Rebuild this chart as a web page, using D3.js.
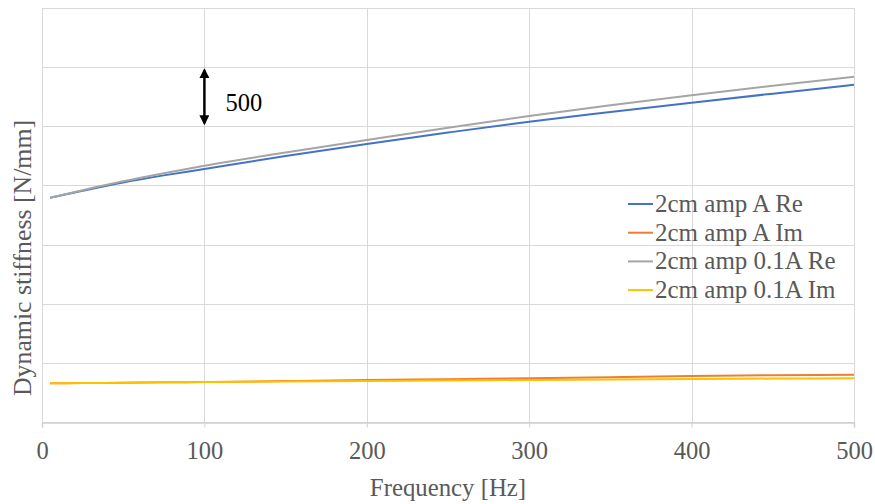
<!DOCTYPE html>
<html>
<head>
<meta charset="utf-8">
<script src="https://cdn.jsdelivr.net/npm/d3@7"></script>
<style>
  body { margin: 0; background: #fff; }
  svg text { font-family: "Liberation Serif", "Times New Roman", serif !important; }
</style>
</head>
<body>
<svg id="chart"></svg>
<script>
// data
let freqs    = [5, 25, 50, 75, 100, 150, 200, 250, 300, 350, 400, 450, 500];
let reA      = [1896, 1955, 2025, 2085, 2139, 2248, 2350, 2447, 2539, 2620, 2699, 2776, 2851];
let imA      = [327, 329, 332, 335, 338, 346, 355, 362, 369, 379, 389, 395, 400];
let reSmall  = [1896, 1960, 2035, 2103, 2167, 2278, 2384, 2488, 2587, 2677, 2762, 2842, 2919];
let imSmall  = [327, 329, 332, 335, 338, 343, 347, 351, 355, 360, 364, 367, 369];
let seriesNames = ["2cm amp A Re", "2cm amp A Im", "2cm amp 0.1A Re", "2cm amp 0.1A Im"];
let seriesColors = ["#4472C4", "#ED7D31", "#A5A5A5", "#FFC000"];
let xTicks = [0, 100, 200, 300, 400, 500];
let yGrid = [0, 500, 1000, 1500, 2000, 2500, 3000, 3500];

let width = 875, height = 504;
let margin = {top: 8, right: 21, bottom: 82, left: 42};
let serif = "'Liberation Serif', 'Times New Roman', serif";

let svg = d3.select("#chart")
  .attr("width", width)
  .attr("height", height);

let x = d3.scaleLinear().domain([0, 500]).range([margin.left, width - margin.right]);
let y = d3.scaleLinear().domain([0, 3500]).range([height - margin.bottom, margin.top]);

// grid
svg.append("g")
  .selectAll("line.h")
  .data(yGrid)
  .enter().append("line")
  .attr("x1", x(0)).attr("x2", x(500))
  .attr("y1", d => Math.round(y(d)) + 0.5).attr("y2", d => Math.round(y(d)) + 0.5)
  .attr("stroke", "#d9d9d9").attr("stroke-width", 1);

svg.append("g")
  .selectAll("line.v")
  .data(xTicks)
  .enter().append("line")
  .attr("x1", d => Math.round(x(d)) + 0.5).attr("x2", d => Math.round(x(d)) + 0.5)
  .attr("y1", y(3500)).attr("y2", y(0))
  .attr("stroke", "#d9d9d9").attr("stroke-width", 1);

// x axis
let xAxis = svg.append("g")
  .attr("transform", "translate(0," + (Math.round(y(0)) + 0.5) + ")")
  .call(d3.axisBottom(x).tickValues(xTicks).tickSize(5).tickPadding(14).tickFormat(d3.format("d")));
xAxis.select(".domain").attr("stroke", "#d0d0d0").attr("stroke-width", 1.5);
xAxis.selectAll(".tick line").attr("stroke", "#d0d0d0");
xAxis.selectAll(".tick text")
  .style("font-family", serif)
  .style("font-size", "24.5px")
  .attr("fill", "#595959");

// lines
let allSeries = [reA, imA, reSmall, imSmall];
let line = d3.line()
  .x((d, i) => x(freqs[i]))
  .y(d => y(d))
  .curve(d3.curveMonotoneX);

// draw in Excel order: A Re, A Im, 0.1A Re, 0.1A Im
allSeries.forEach(function(s, i) {
  svg.append("path")
    .datum(s)
    .attr("fill", "none")
    .attr("stroke", seriesColors[i])
    .attr("stroke-width", 2)
    .attr("d", line);
});

// arrow showing 500 N/mm
let defs = svg.append("defs");
defs.append("marker")
  .attr("id", "head")
  .attr("viewBox", "0 0 10 10")
  .attr("refX", 8).attr("refY", 5)
  .attr("markerWidth", 4).attr("markerHeight", 4)
  .attr("orient", "auto-start-reverse")
  .append("path")
  .attr("d", "M0,0 L10,5 L0,10 z")
  .attr("fill", "#000");

svg.append("line")
  .attr("x1", x(100)).attr("x2", x(100))
  .attr("y1", y(3000) + 3).attr("y2", y(2500) - 3)
  .attr("stroke", "#000").attr("stroke-width", 2.5)
  .attr("marker-start", "url(#head)")
  .attr("marker-end", "url(#head)");

svg.append("text")
  .attr("x", x(100) + 21)
  .attr("y", 111)
  .style("font-family", serif)
  .style("font-size", "24.5px")
  .style("fill", "#000")
  .text("500");

// legend
let legend = svg.append("g").attr("transform", "translate(628,204)");
seriesNames.forEach(function(name, i) {
  let g = legend.append("g").attr("transform", "translate(0," + (i * 28.7) + ")");
  g.append("line")
    .attr("x1", 0).attr("x2", 25)
    .attr("y1", 0).attr("y2", 0)
    .attr("stroke", seriesColors[i]).attr("stroke-width", 2);
  g.append("text")
    .attr("x", 27).attr("y", 8)
    .style("font-family", serif)
    .style("font-size", "25px")
    .style("fill", "#595959")
    .text(name);
});

// axis titles
svg.append("text")
  .attr("x", (x(0) + x(500)) / 2)
  .attr("y", 496)
  .attr("text-anchor", "middle")
  .style("font-family", serif)
  .style("font-size", "24.8px")
  .style("fill", "#595959")
  .text("Frequency [Hz]");

svg.append("text")
  .attr("transform", "translate(31," + 258 + ") rotate(-90)")
  .attr("text-anchor", "middle")
  .style("font-family", serif)
  .style("font-size", "25.8px")
  .style("fill", "#595959")
  .text("Dynamic stiffness [N/mm]");
</script>
</body>
</html>
